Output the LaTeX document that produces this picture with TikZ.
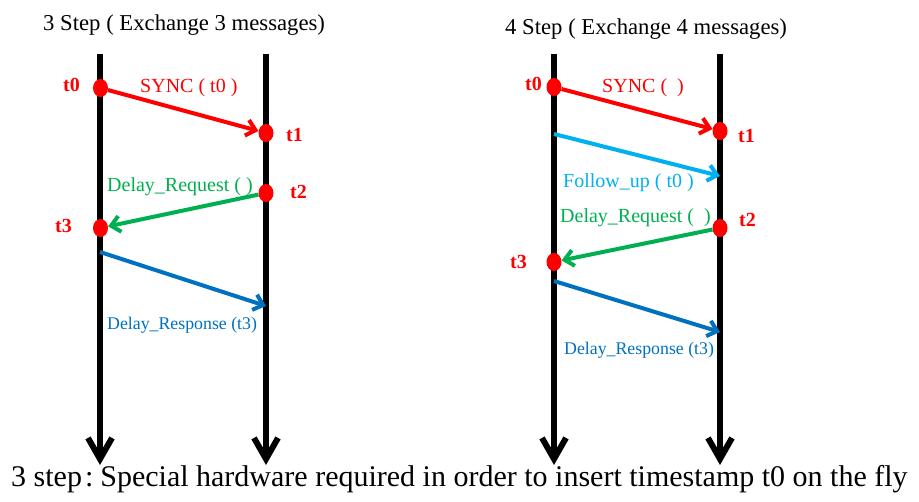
\documentclass[tikz,border=0pt]{standalone}
\usepackage{fontspec}
\setmainfont{Liberation Serif}
\usetikzlibrary{arrows.meta,shapes.geometric}
\definecolor{cRed}{RGB}{255,0,0}
\definecolor{cGreen}{RGB}{0,176,80}
\definecolor{cCyan}{RGB}{0,176,240}
\definecolor{cBlue}{RGB}{0,112,192}
\tikzset{
  timeline/.style={line width=6pt,black,-{Straight Barb[length=21pt,width=24pt]}},
  msg/.style={line width=4pt,-{Straight Barb[length=9pt,width=16pt]}},
  dot/.style={ellipse,fill=cRed,draw=none,minimum width=15pt,minimum height=18pt,inner sep=0pt},
  tlabel/.style={anchor=base west,inner sep=0pt,text=cRed,font=\fontsize{20}{24}\selectfont\bfseries},
  mlabel/.style={anchor=base west,inner sep=0pt,font=\fontsize{20}{24}\selectfont},
  slabel/.style={anchor=base west,inner sep=0pt,font=\fontsize{17.8}{21}\selectfont},
  title/.style={anchor=base west,inner sep=0pt,font=\fontsize{22.7}{27}\selectfont},
}
\begin{document}
\begin{tikzpicture}[x=1pt,y=-1pt]
\useasboundingbox (0,0) rectangle (919,502);
% titles
\node[title] (title3) at (43,31) {3 Step ( Exchange 3 messages)};
\node[title] (title4) at (505,35) {4 Step ( Exchange 4 messages)};
% timelines
\coordinate (LAtop) at (100,54); \coordinate (LAbot) at (100,465);
\coordinate (LBtop) at (266,54); \coordinate (LBbot) at (266,465);
\coordinate (RAtop) at (554,54); \coordinate (RAbot) at (554,465);
\coordinate (RBtop) at (720,54); \coordinate (RBbot) at (720,465);
\draw[timeline] (LAtop) -- (LAbot);
\draw[timeline] (LBtop) -- (LBbot);
\draw[timeline] (RAtop) -- (RAbot);
\draw[timeline] (RBtop) -- (RBbot);
% left dots
\node[dot] (Lt0) at (100.5,88) {};
\node[dot] (Lt1) at (266,133) {};
\node[dot] (Lt2) at (266,193) {};
\node[dot] (Lt3) at (100.5,228) {};
% right dots
\node[dot] (Rt0) at (554,87) {};
\node[dot] (Rt1) at (720,131) {};
\node[dot] (Rt2) at (720,228) {};
\node[dot] (Rt3) at (554,262) {};
% left messages
\draw[msg,cRed] (Lt0) -- (Lt1);
\draw[msg,cGreen] (Lt2) -- (Lt3);
\coordinate (LrespS) at (100,252); \coordinate (LrespE) at (266,306);
\draw[msg,cBlue] (LrespS) -- (LrespE);
% right messages
\draw[msg,cRed] (Rt0) -- (Rt1);
\coordinate (RfuS) at (554,134); \coordinate (RfuE) at (720,176);
\draw[msg,cCyan] (RfuS) -- (RfuE);
\draw[msg,cGreen] (Rt2) -- (Rt3);
\coordinate (RrespS) at (554,281); \coordinate (RrespE) at (720,332);
\draw[msg,cBlue] (RrespS) -- (RrespE);
% left labels
\node[tlabel] (Lt0l) at (63,92) {t0};
\node[tlabel] (Lt1l) at (286,142) {t1};
\node[tlabel] (Lt2l) at (290,199) {t2};
\node[tlabel] (Lt3l) at (55,233) {t3};
\node[mlabel,text=cRed] (Lsync) at (140,92.5) {SYNC ( t0 )};
\node[mlabel,text=cGreen] (Lreq) at (107,192) {Delay\_Request ( )};
\node[slabel,text=cBlue] (Lresp) at (107,330) {Delay\_Response (t3)};
% right labels
\node[tlabel] (Rt0l) at (525,91) {t0};
\node[tlabel] (Rt1l) at (738,143) {t1};
\node[tlabel] (Rt2l) at (739,227) {t2};
\node[tlabel] (Rt3l) at (510,269) {t3};
\node[mlabel,text=cRed] (Rsync) at (602,92.5) {SYNC (\ \ )};
\node[mlabel,text=cCyan] (Rfu) at (563,188) {Follow\_up ( t0 )};
\node[mlabel,text=cGreen] (Rreq) at (560,223) {Delay\_Request (\ \ )};
\node[slabel,text=cBlue] (Rresp) at (564,355) {Delay\_Response (t3)};
% bottom note
\node[anchor=base west,inner sep=0pt,font=\fontsize{30}{36}\selectfont] (note) at (11,487)
  {3 step\hspace{3pt}:\hspace{7pt}Special hardware required in order to insert timestamp t0 on the fly};
\end{tikzpicture}
\end{document}
